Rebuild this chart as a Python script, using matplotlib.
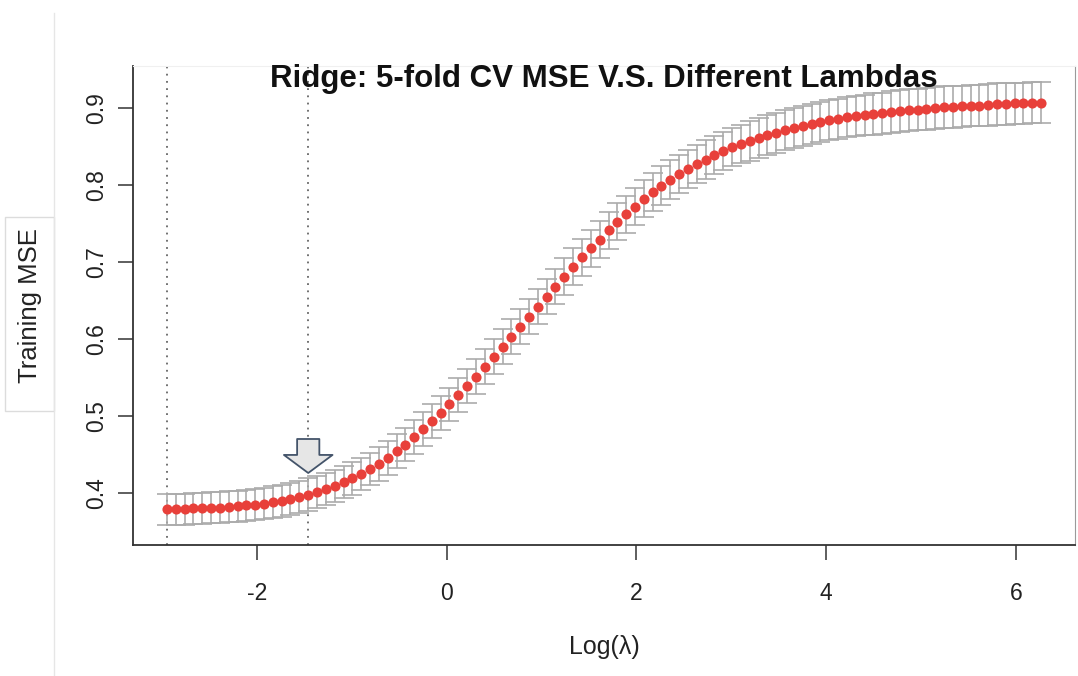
import numpy as np
import matplotlib
matplotlib.use('Agg')
import matplotlib.pyplot as plt
from matplotlib.patches import Rectangle
from matplotlib.lines import Line2D

plt.rcParams['font.family'] = ['Liberation Sans', 'DejaVu Sans']

# log(lambda) grid
log_lambda = [-2.950, -2.857, -2.764, -2.671, -2.578, -2.484, -2.391, -2.298, -2.205, -2.112,
              -2.019, -1.926, -1.833, -1.740, -1.647, -1.554, -1.460, -1.367, -1.274, -1.181,
              -1.088, -0.995, -0.902, -0.809, -0.716, -0.623, -0.529, -0.436, -0.343, -0.250,
              -0.157, -0.064, 0.029, 0.122, 0.215, 0.308, 0.401, 0.495, 0.588, 0.681,
              0.774, 0.867, 0.960, 1.053, 1.146, 1.239, 1.332, 1.425, 1.518, 1.611,
              1.705, 1.798, 1.891, 1.984, 2.077, 2.170, 2.263, 2.356, 2.449, 2.542,
              2.635, 2.728, 2.821, 2.915, 3.008, 3.101, 3.194, 3.287, 3.380, 3.473,
              3.566, 3.659, 3.752, 3.845, 3.938, 4.031, 4.125, 4.218, 4.311, 4.404,
              4.497, 4.590, 4.683, 4.776, 4.869, 4.962, 5.055, 5.148, 5.241, 5.335,
              5.428, 5.521, 5.614, 5.707, 5.800, 5.893, 5.986, 6.079, 6.172, 6.265]

# mean CV MSE
cv_mse = [0.379, 0.379, 0.379, 0.380, 0.380, 0.381, 0.381, 0.382, 0.383, 0.384,
          0.385, 0.386, 0.388, 0.390, 0.392, 0.395, 0.398, 0.401, 0.405, 0.409,
          0.414, 0.419, 0.425, 0.431, 0.438, 0.446, 0.454, 0.463, 0.473, 0.483,
          0.494, 0.504, 0.515, 0.527, 0.539, 0.551, 0.564, 0.577, 0.590, 0.603,
          0.616, 0.629, 0.642, 0.655, 0.668, 0.681, 0.694, 0.706, 0.718, 0.729,
          0.741, 0.752, 0.762, 0.772, 0.782, 0.791, 0.799, 0.807, 0.814, 0.821,
          0.827, 0.833, 0.839, 0.844, 0.849, 0.853, 0.857, 0.861, 0.865, 0.868,
          0.871, 0.874, 0.877, 0.879, 0.882, 0.884, 0.886, 0.888, 0.889, 0.891,
          0.892, 0.893, 0.895, 0.896, 0.897, 0.898, 0.899, 0.900, 0.901, 0.901,
          0.902, 0.903, 0.903, 0.904, 0.905, 0.905, 0.906, 0.906, 0.907, 0.907]

# standard error (half height of the bars)
cv_se = [0.020, 0.020, 0.020, 0.020, 0.020, 0.020, 0.020, 0.020, 0.020, 0.020,
         0.020, 0.020, 0.021, 0.021, 0.021, 0.021, 0.021, 0.021, 0.021, 0.021,
         0.021, 0.021, 0.021, 0.021, 0.022, 0.022, 0.022, 0.022, 0.022, 0.022,
         0.022, 0.022, 0.022, 0.022, 0.022, 0.023, 0.023, 0.023, 0.023, 0.023,
         0.023, 0.023, 0.023, 0.023, 0.023, 0.024, 0.024, 0.024, 0.024, 0.024,
         0.024, 0.024, 0.024, 0.024, 0.024, 0.025, 0.025, 0.025, 0.025, 0.025,
         0.025, 0.025, 0.025, 0.025, 0.025, 0.025, 0.026, 0.026, 0.026, 0.026,
         0.026, 0.026, 0.026, 0.026, 0.026, 0.026, 0.026, 0.026, 0.026, 0.026,
         0.027, 0.027, 0.027, 0.027, 0.027, 0.027, 0.027, 0.027, 0.027, 0.027,
         0.027, 0.027, 0.027, 0.027, 0.027, 0.027, 0.027, 0.027, 0.027, 0.027]

lambda_min = -2.950
lambda_1se = -1.460
arrow_tip = 0.426

xticks = [-2, 0, 2, 4, 6]
yticks = [0.4, 0.5, 0.6, 0.7, 0.8, 0.9]

fig = plt.figure(figsize=(10.78, 6.76), dpi=100)
ax = fig.add_axes([133/1078, 1-545/676, (1075-133)/1078, (545-66)/676])

ax.errorbar(log_lambda, cv_mse, yerr=cv_se, fmt='none', ecolor='#ababab',
            elinewidth=1.2, capsize=7, capthick=1.2, zorder=2)
ax.plot(log_lambda, cv_mse, 'o', color='#e8403a', markersize=7.3, markeredgewidth=0, zorder=3)

ax.axvline(lambda_min, color='#666666', lw=1.3, ls=(0, (1, 3)), zorder=1)
ax.axvline(lambda_1se, color='#666666', lw=1.3, ls=(0, (1, 3)), zorder=1)

ax.annotate('', xy=(lambda_1se, arrow_tip), xytext=(0, 34), textcoords='offset pixels',
            arrowprops=dict(arrowstyle='simple,head_length=1.3,head_width=3.5,tail_width=1.6',
                            fc='#e6e6e6', ec='#44546a', lw=1.3, shrinkA=0, shrinkB=0),
            zorder=4)

ax.set_xlim(-3.307, 6.622)
ax.set_ylim(0.3325, 0.9545)
ax.set_xticks(xticks)
ax.set_xticklabels([str(t) for t in xticks])
ax.set_yticks(yticks)
ax.set_yticklabels(['{:.1f}'.format(t) for t in yticks])

ax.tick_params(axis='both', direction='out', length=11, width=1.1, color='#333333',
               labelsize=16.5, labelcolor='#222222')
ax.tick_params(axis='x', pad=16)
ax.tick_params(axis='y', pad=7)
for lbl in ax.get_yticklabels():
    lbl.set_rotation(90)
    lbl.set_va('center')

ax.spines['left'].set_color('#333333')
ax.spines['bottom'].set_color('#333333')
ax.spines['left'].set_linewidth(1.3)
ax.spines['bottom'].set_linewidth(1.3)
ax.spines['top'].set_color('#f0f0f0')
ax.spines['right'].set_color('#9a9a9a')

ax.text(0.5, 0.972, 'Ridge: 5-fold CV MSE V.S. Different Lambdas', transform=ax.transAxes,
        ha='center', va='center', fontsize=22.5, fontweight='bold', color='#111111', zorder=5)

ax.set_xlabel('Log(λ)', fontsize=18, color='#222222')
ax.xaxis.set_label_coords(0.5, -0.188)

# box around the y label and the faint panel edge
fig.patches.append(Rectangle((5/1078, 1-411/676), 49/1078, 194/676, transform=fig.transFigure,
                             fill=False, ec='#dcdcdc', lw=1))
fig.lines.append(Line2D([54/1078, 54/1078], [0, 1-13/676], transform=fig.transFigure,
                        color='#e6e6e6', lw=1))
fig.text(30/1078, 1-306/676, 'Training MSE', rotation=90, ha='center', va='center',
         fontsize=18.5, color='#222222')

fig.savefig('out.png', dpi=100)
